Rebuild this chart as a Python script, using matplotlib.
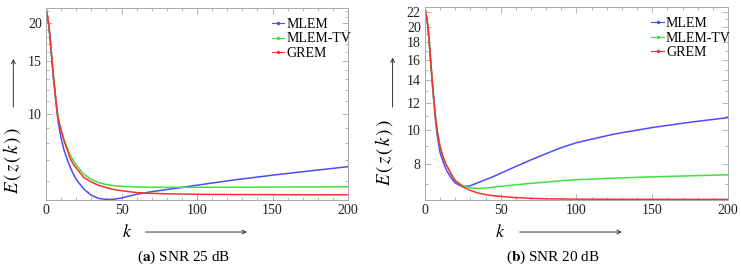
import matplotlib
matplotlib.use("Agg")
import matplotlib.pyplot as plt
from matplotlib.ticker import FixedLocator, NullFormatter
from matplotlib.lines import Line2D
from matplotlib.patches import FancyArrowPatch

plt.rcParams["font.family"] = ["Liberation Serif", "DejaVu Serif"]
plt.rcParams["mathtext.fontset"] = "stix"

# iteration index shared by all curves
k = [0, 1, 2, 3, 4, 5, 6, 7, 8, 10, 12, 14, 16, 18, 20, 25, 30, 35, 40, 45,
     50, 60, 70, 80, 90, 100, 125, 150, 175, 200]

# (a) SNR 25 dB
mlem_a = [22.4, 21.0, 19.3, 17.0, 14.8, 13.0, 11.6, 10.4, 9.4, 8.3, 7.55, 7.05,
          6.65, 6.32, 6.05, 5.62, 5.36, 5.23, 5.19, 5.2, 5.25, 5.4, 5.51, 5.6,
          5.69, 5.79, 6.03, 6.25, 6.46, 6.67]
mlemtv_a = [22.4, 21.1, 19.5, 17.2, 15.0, 13.2, 11.8, 10.6, 9.7, 8.85, 8.2, 7.7,
            7.3, 7.0, 6.75, 6.3, 6.05, 5.9, 5.82, 5.77, 5.74, 5.71, 5.70, 5.695,
            5.695, 5.695, 5.70, 5.705, 5.71, 5.72]
grem_a = [22.4, 21.1, 19.5, 17.2, 15.0, 13.2, 11.8, 10.6, 9.7, 8.8, 8.1, 7.6,
          7.1, 6.8, 6.6, 6.14, 5.93, 5.78, 5.68, 5.6, 5.55, 5.47, 5.44, 5.42,
          5.41, 5.40, 5.39, 5.385, 5.38, 5.38]

# (b) SNR 20 dB
mlem_b = [22.7, 21.4, 19.8, 17.5, 15.2, 13.4, 11.9, 10.6, 9.7, 8.6, 8.1, 7.68,
          7.42, 7.2, 7.02, 6.85, 6.9, 7.04, 7.18, 7.33, 7.5, 7.85, 8.2, 8.55,
          8.9, 9.2, 9.75, 10.18, 10.55, 10.88]
mlemtv_b = [22.7, 21.5, 20.0, 17.7, 15.5, 13.6, 12.1, 10.9, 10.0, 8.95, 8.35,
            7.95, 7.65, 7.38, 7.15, 6.9, 6.8, 6.77, 6.79, 6.83, 6.87, 6.94, 7.01,
            7.07, 7.13, 7.18, 7.26, 7.32, 7.37, 7.42]
grem_b = [22.7, 21.5, 20.0, 17.7, 15.5, 13.6, 12.1, 10.9, 10.0, 8.95, 8.35, 7.95,
          7.65, 7.35, 7.12, 6.85, 6.68, 6.57, 6.5, 6.45, 6.42, 6.37, 6.34, 6.32,
          6.31, 6.305, 6.30, 6.298, 6.296, 6.295]

labels = ["MLEM", "MLEM-TV", "GREM"]
colors = ["#4b4bff", "#3be33b", "#ff2f2f"]

yticks_a = [10, 15, 20]
yminor_a = [6, 7, 8, 9, 11, 12, 13, 14, 16, 17, 18, 19, 21, 22]
yticks_b = [8, 10, 12, 14, 16, 18, 20, 22]
yminor_b = [7, 9, 11, 13, 15, 17, 19, 21]
xticks = [0, 50, 100, 150, 200]

fig = plt.figure(figsize=(7.41, 2.67), dpi=100)
ax_a = fig.add_axes([0.0621, 0.251, 0.4076, 0.718])
ax_b = fig.add_axes([0.5735, 0.251, 0.4089, 0.7213])

frame = "#a8a8a8"


def style(ax, ylim, yt, ym):
    ax.set_yscale("log")
    ax.set_xlim(0, 200)
    ax.set_ylim(*ylim)
    ax.yaxis.set_major_locator(FixedLocator(yt))
    ax.yaxis.set_minor_locator(FixedLocator(ym))
    ax.yaxis.set_minor_formatter(NullFormatter())
    ax.set_yticklabels([str(v) for v in yt])
    ax.xaxis.set_major_locator(FixedLocator(xticks))
    ax.xaxis.set_minor_locator(FixedLocator(list(range(10, 200, 10))))
    ax.set_xticklabels([str(v) for v in xticks])
    ax.tick_params(which="both", direction="in", top=True, right=True,
                   color=frame, labelsize=10, labelcolor="#222222", width=0.6)
    ax.tick_params(which="major", length=4, pad=3)
    ax.tick_params(which="minor", length=2)
    for s in ax.spines.values():
        s.set_color(frame)
        s.set_linewidth(0.7)


for ax, series, ylim, yt, ym in [
    (ax_a, [mlem_a, mlemtv_a, grem_a], (5.17, 22.4), yticks_a, yminor_a),
    (ax_b, [mlem_b, mlemtv_b, grem_b], (6.27, 22.75), yticks_b, yminor_b),
]:
    for vals, c, lab in zip(series, colors, labels):
        ax.plot(k, vals, color=c, lw=1.1, label=lab)
    style(ax, ylim, yt, ym)
    handles = [Line2D([], [], color=c, lw=0.8, marker="o", markersize=1.5)
               for c in colors]
    ax.legend(handles, labels, loc="upper left", bbox_to_anchor=(0.715, 1.0),
              frameon=False, fontsize=10, handlelength=0.9,
              handletextpad=0.15, labelspacing=0.1, borderpad=0.2)

arrow = dict(arrowstyle="->", color="#333333", lw=0.7, mutation_scale=7,
             transform=fig.transFigure)

# y labels with arrows
fig.text(0.0165, 0.40, r"$E\,(\,z\,(\,k\,)\,)$", rotation=90, ha="center",
         va="center", fontsize=13.5)
fig.text(0.518, 0.43, r"$E\,(\,z\,(\,k\,)\,)$", rotation=90, ha="center",
         va="center", fontsize=13.5)
fig.add_artist(FancyArrowPatch((0.018, 0.588), (0.018, 0.79), **arrow))
fig.add_artist(FancyArrowPatch((0.5298, 0.588), (0.5298, 0.795), **arrow))

# x labels with arrows
fig.text(0.1714, 0.131, r"$k$", ha="center", va="center", fontsize=13)
fig.text(0.6748, 0.131, r"$k$", ha="center", va="center", fontsize=13)
fig.add_artist(FancyArrowPatch((0.193, 0.131), (0.337, 0.131), **arrow))
fig.add_artist(FancyArrowPatch((0.6977, 0.131), (0.843, 0.131), **arrow))

# captions
fig.text(0.248, 0.038, r"($\mathbf{a}$) SNR 25 dB", ha="center", va="center",
         fontsize=11)
fig.text(0.746, 0.038, r"($\mathbf{b}$) SNR 20 dB", ha="center", va="center",
         fontsize=11)

fig.savefig("out.png", dpi=100)
